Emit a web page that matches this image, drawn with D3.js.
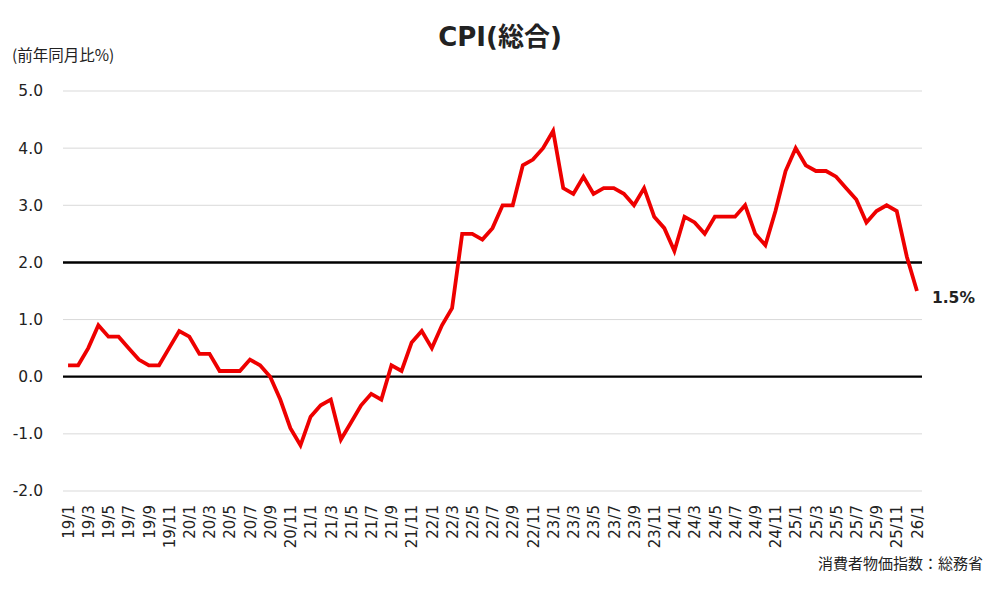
<!DOCTYPE html>
<html>
<head>
<meta charset="utf-8">
<script src="https://cdn.jsdelivr.net/npm/d3@7"></script>
<style>
  body { margin: 0; background: #fff; }
  text { font-family: "DejaVu Sans", Verdana, "Noto Sans CJK JP", sans-serif; fill: #222; }
  .jp { font-family: "Noto Sans CJK JP", sans-serif; }
</style>
</head>
<body>
<div id="chart"></div>
<script>
// months 2019/1 .. 2026/1
var years = ["19", "20", "21", "22", "23", "24", "25", "26"];
var cpi2019 = [0.2, 0.2, 0.5, 0.9, 0.7, 0.7, 0.5, 0.3, 0.2, 0.2, 0.5, 0.8];
var cpi2020 = [0.7, 0.4, 0.4, 0.1, 0.1, 0.1, 0.3, 0.2, 0.0, -0.4, -0.9, -1.2];
var cpi2021 = [-0.7, -0.5, -0.4, -1.1, -0.8, -0.5, -0.3, -0.4, 0.2, 0.1, 0.6, 0.8];
var cpi2022 = [0.5, 0.9, 1.2, 2.5, 2.5, 2.4, 2.6, 3.0, 3.0, 3.7, 3.8, 4.0];
var cpi2023 = [4.3, 3.3, 3.2, 3.5, 3.2, 3.3, 3.3, 3.2, 3.0, 3.3, 2.8, 2.6];
var cpi2024 = [2.2, 2.8, 2.7, 2.5, 2.8, 2.8, 2.8, 3.0, 2.5, 2.3, 2.9, 3.6];
var cpi2025 = [4.0, 3.7, 3.6, 3.6, 3.5, 3.3, 3.1, 2.7, 2.9, 3.0, 2.9, 2.1];
var cpi2026 = [1.5];
var yTicks = [-2, -1, 0, 1, 2, 3, 4, 5];
var refLines = [0, 2];

var W = 1000, H = 591;
var margin = { left: 63, right: 78, top: 91, bottom: 100 };

// plain hyphen for negatives, like the original
function fmt(v) { return v.toFixed(1); }

//////////////////////////////////
// build monthly rows
var series = [cpi2019, cpi2020, cpi2021, cpi2022, cpi2023, cpi2024, cpi2025, cpi2026];
var data = [];
series.forEach(function(arr, i) {
  arr.forEach(function(v, m) {
    data.push({ label: years[i] + "/" + (m + 1), value: v });
  });
});

var svg = d3.select("#chart").append("svg")
  .attr("width", W)
  .attr("height", H);

var x = d3.scalePoint()
  .domain(data.map(function(d) { return d.label; }))
  .range([margin.left, W - margin.right])
  .padding(0.5);

var y = d3.scaleLinear()
  .domain([-2, 5])
  .range([H - margin.bottom, margin.top]);

// grid lines
svg.append("g")
  .selectAll("line")
  .data(yTicks)
  .enter()
  .append("line")
  .attr("x1", margin.left)
  .attr("x2", W - margin.right)
  .attr("y1", function(d) { return y(d); })
  .attr("y2", function(d) { return y(d); })
  .attr("stroke", "#d9d9d9")
  .attr("stroke-width", 1);

// y labels
var yAxis = d3.axisLeft(y).tickValues(yTicks).tickFormat(fmt).tickSize(0).tickPadding(0);
var yg = svg.append("g")
  .attr("transform", "translate(43,0)")
  .call(yAxis);
yg.select(".domain").remove();
yg.selectAll("text")
  .attr("font-size", 15.5)
  .attr("fill", "#222")
  .style("font-family", "'DejaVu Sans', Verdana, sans-serif");

// black reference lines at 0 and 2
svg.append("g")
  .selectAll("line")
  .data(refLines)
  .enter()
  .append("line")
  .attr("x1", margin.left)
  .attr("x2", W - margin.right)
  .attr("y1", function(d) { return y(d); })
  .attr("y2", function(d) { return y(d); })
  .attr("stroke", "#000")
  .attr("stroke-width", function(d) { return d == 2 ? 2.6 : 2.2; });

// x labels every 2 months
var xAxis = d3.axisBottom(x)
  .tickValues(x.domain().filter(function(d, i) { return i % 2 == 0; }))
  .tickSize(0)
  .tickPadding(0);
var xg = svg.append("g")
  .attr("transform", "translate(0," + (H - margin.bottom + 14) + ")")
  .call(xAxis);
xg.select(".domain").remove();
xg.selectAll("text")
  .attr("font-size", 15)
  .attr("fill", "#222")
  .style("font-family", "'DejaVu Sans', Verdana, sans-serif")
  .attr("text-anchor", "end")
  .attr("dy", "0.35em")
  .attr("transform", "rotate(-90)")
  .attr("x", 0)
  .attr("y", 0);

// CPI line
var line = d3.line()
  .x(function(d) { return x(d.label); })
  .y(function(d) { return y(d.value); });

svg.append("path")
  .datum(data)
  .attr("d", line)
  .attr("fill", "none")
  .attr("stroke", "#ee0000")
  .attr("stroke-width", 3.8)
  .attr("stroke-linejoin", "miter");

// end label
var last = data[data.length - 1];
svg.append("text")
  .attr("x", x(last.label) + 15)
  .attr("y", y(last.value) + 12)
  .attr("font-size", 15.5)
  .attr("font-weight", "bold")
  .text(fmt(last.value) + "%");

// title
svg.append("text")
  .attr("x", 500)
  .attr("y", 46)
  .attr("text-anchor", "middle")
  .attr("font-size", 26)
  .attr("font-weight", "bold")
  .style("font-family", "'DejaVu Sans', 'Noto Sans CJK JP', sans-serif")
  .text("CPI(総合)");

// unit
svg.append("text")
  .attr("class", "jp")
  .attr("x", 12)
  .attr("y", 61)
  .attr("font-size", 15.5)
  .text("(前年同月比%)");

// source
svg.append("text")
  .attr("class", "jp")
  .attr("x", 983)
  .attr("y", 569)
  .attr("text-anchor", "end")
  .attr("font-size", 15)
  .text("消費者物価指数：総務省");
</script>
</body>
</html>
